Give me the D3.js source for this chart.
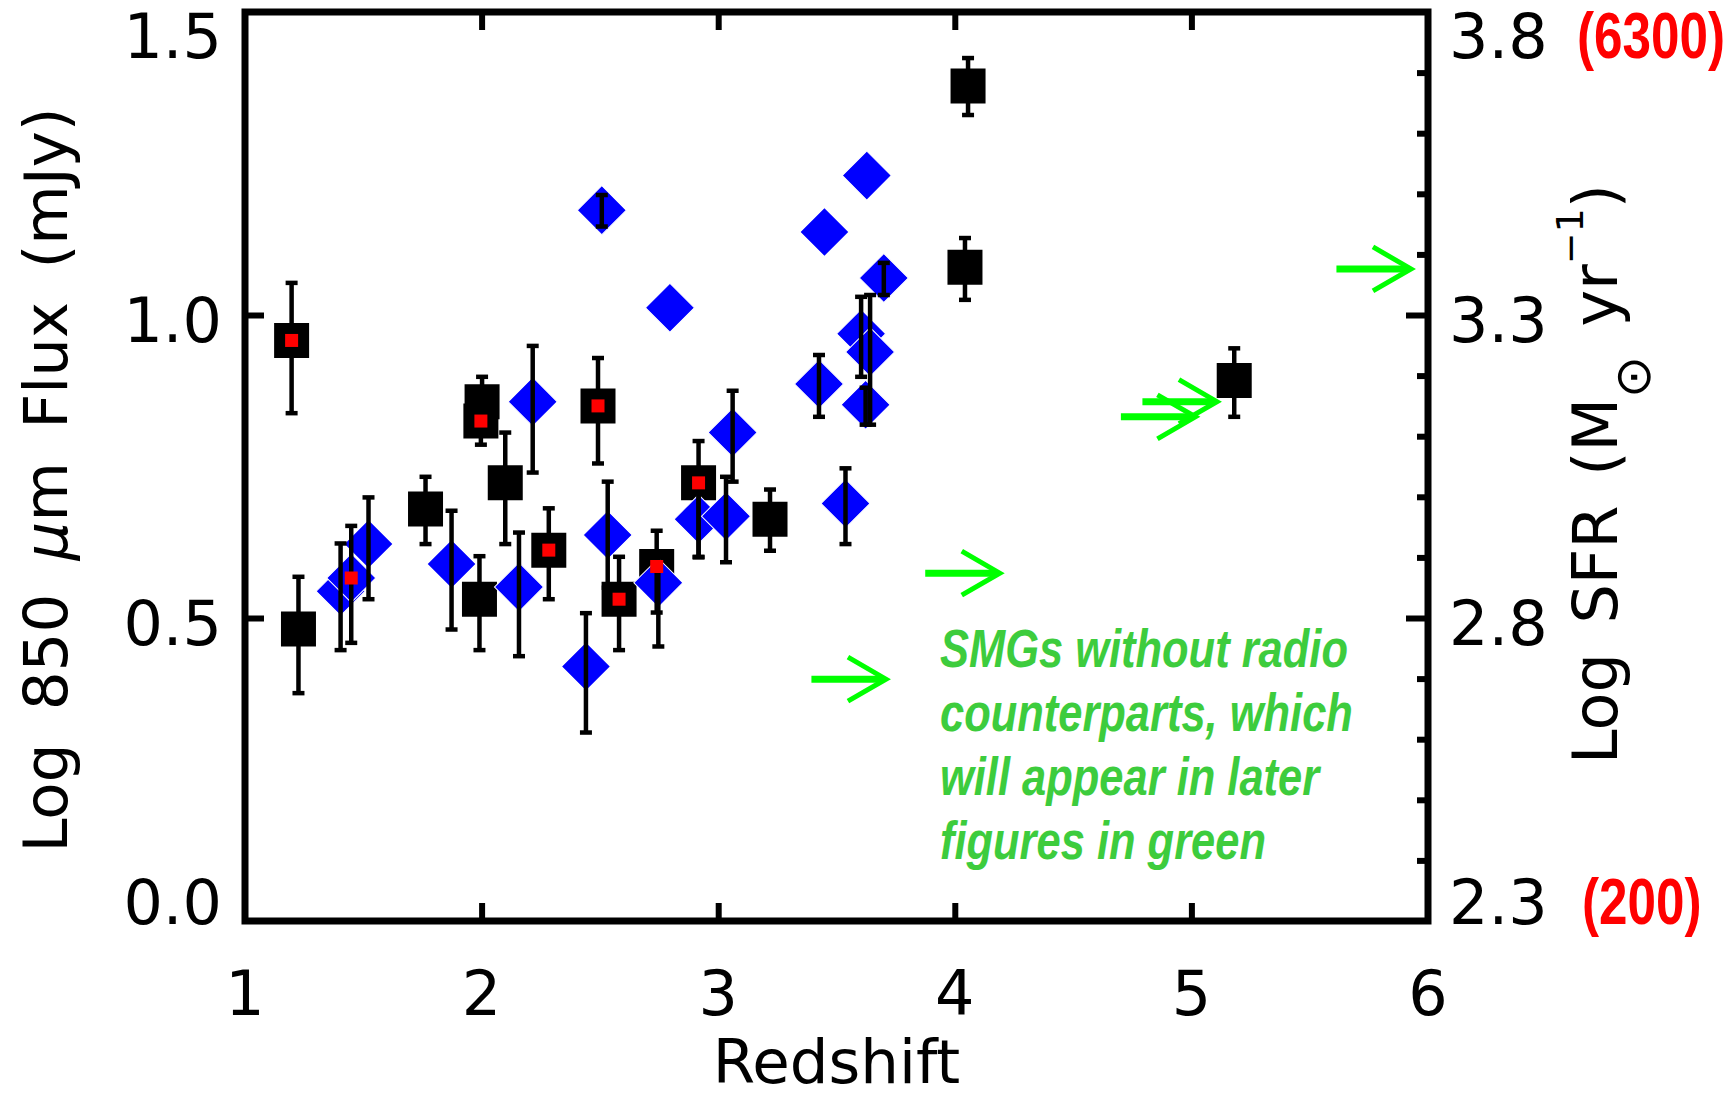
<!DOCTYPE html>
<html>
<head>
<meta charset="utf-8">
<script src="https://cdn.jsdelivr.net/npm/d3@7"></script>
<style>
  body { margin: 0; background: #fff; }
  svg { display: block; }
</style>
</head>
<body>
<div id="chart"></div>
<script>
// black squares: redshift, log flux, lower / upper error, red centre flag
var sqZ   = [1.197, 1.226, 1.763, 1.991, 2.002, 1.997, 2.100, 2.284, 2.492, 2.581, 2.740, 2.917, 3.219, 4.043, 4.056, 5.181];
var sqF   = [0.958, 0.482, 0.680, 0.531, 0.857, 0.825, 0.723, 0.612, 0.850, 0.531, 0.585, 0.723, 0.663, 1.079, 1.378, 0.892];
var sqLo  = [0.838, 0.376, 0.622, 0.447, 0.830, 0.786, 0.622, 0.531, 0.755, 0.447, 0.509, 0.601, 0.611, 1.025, 1.330, 0.832];
var sqHi  = [1.053, 0.568, 0.733, 0.602, 0.898, 0.860, 0.806, 0.681, 0.929, 0.601, 0.644, 0.792, 0.712, 1.127, 1.424, 0.945];
var sqRed = [1, 0, 0, 0, 0, 1, 0, 1, 1, 1, 1, 1, 0, 0, 0, 0];

// blue diamonds (null = no error bar)
var dmZ   = [1.404, 1.449, 1.522, 1.873, 2.158, 2.216, 2.441, 2.508, 2.533, 2.747, 2.796, 2.917, 3.033, 3.061, 3.426, 3.449, 3.538, 3.604, 3.642, 3.623, 3.628, 3.700];
var dmF   = [0.544, 0.566, 0.622, 0.589, 0.551, 0.857, 0.420, 1.173, 0.637, 0.558, 1.012, 0.663, 0.668, 0.806, 0.886, 1.137, 0.689, 0.969, 0.939, 0.852, 1.230, 1.061];
var dmLo  = [0.447, 0.459, 0.531, 0.481, 0.437, 0.740, 0.311, 1.146, 0.550, 0.453, null, 0.600, 0.592, 0.725, 0.832, null, 0.622, 0.898, 0.819, 0.819, null, 1.033];
var dmHi  = [0.623, 0.652, 0.699, 0.677, 0.641, 0.949, 0.508, 1.198, 0.725, 0.607, null, 0.720, 0.733, 0.875, 0.934, null, 0.747, 1.030, 1.033, 0.880, null, 1.086];
var dmRed = [0, 1, 0, 0, 0, 0, 0, 0, 0, 0, 0, 0, 0, 0, 0, 0, 0, 0, 0, 0, 0, 0];

// green arrows (SMGs without radio counterparts): tip redshift, log flux
var arZ = [3.709, 4.190, 5.017, 5.108, 5.928];
var arF = [0.399, 0.574, 0.832, 0.857, 1.076];
var arLen = 0.315;

var xTicks = [1, 2, 3, 4, 5, 6];
var yTicks = [0.0, 0.5, 1.0, 1.5];
var sfrTicks = [2.3, 2.8, 3.3, 3.8];
var sfrMinor = [2.4, 2.5, 2.6, 2.7, 2.9, 3.0, 3.1, 3.2, 3.4, 3.5, 3.6, 3.7];
var noteLines = ["SMGs without radio", "counterparts, which", "will appear in later", "figures in green"];

var width = 1735, height = 1098;
var font = "'DejaVu Sans', sans-serif";

var svg = d3.select("#chart").append("svg")
    .attr("width", width)
    .attr("height", height);

var x = d3.scaleLinear().domain([1, 6]).range([245, 1428]);
var y = d3.scaleLinear().domain([0, 1.5]).range([921, 12]);
var ySfr = d3.scaleLinear().domain([2.3, 3.8]).range([921, 12]);

// ticks
function styleAxis(g){
  g.select(".domain").remove();
  g.selectAll("line").attr("stroke", "#000").attr("stroke-width", 6);
}
svg.append("g").attr("transform", "translate(0," + y(0) + ")")
   .call(d3.axisBottom(x).tickValues([2, 3, 4, 5]).tickSize(-18).tickFormat(""))
   .call(styleAxis);
svg.append("g").attr("transform", "translate(0," + y(1.5) + ")")
   .call(d3.axisTop(x).tickValues([2, 3, 4, 5]).tickSize(-18).tickFormat(""))
   .call(styleAxis);
svg.append("g").attr("transform", "translate(" + x(1) + ",0)")
   .call(d3.axisLeft(y).tickValues([0.5, 1.0]).tickSize(-19).tickFormat(""))
   .call(styleAxis);
svg.append("g").attr("transform", "translate(" + x(6) + ",0)")
   .call(d3.axisRight(ySfr).tickValues([2.8, 3.3]).tickSize(-22).tickFormat(""))
   .call(styleAxis);
svg.append("g").attr("transform", "translate(" + x(6) + ",0)")
   .call(d3.axisRight(ySfr).tickValues(sfrMinor).tickSize(-11).tickFormat(""))
   .call(styleAxis);

// frame
svg.append("rect")
   .attr("x", x(1)).attr("y", y(1.5))
   .attr("width", x(6) - x(1)).attr("height", y(0) - y(1.5))
   .attr("fill", "none").attr("stroke", "#000").attr("stroke-width", 7);

// tick labels
function labelY(py){ return Math.max(58, Math.min(924, py + 27)); }

svg.selectAll(".xlab").data(xTicks).enter().append("text")
   .attr("x", function(d){ return x(d); })
   .attr("y", 1015)
   .attr("text-anchor", "middle")
   .style("font-family", font).style("font-size", "62px")
   .text(function(d){ return d; });

svg.selectAll(".ylab").data(yTicks).enter().append("text")
   .attr("x", 222)
   .attr("y", function(d){ return labelY(y(d)); })
   .attr("text-anchor", "end")
   .style("font-family", font).style("font-size", "62px")
   .text(function(d){ return d.toFixed(1); });

svg.selectAll(".sfrlab").data(sfrTicks).enter().append("text")
   .attr("x", 1449)
   .attr("y", function(d){ return labelY(ySfr(d)); })
   .attr("text-anchor", "start")
   .style("font-family", font).style("font-size", "62px")
   .text(function(d){ return d.toFixed(1); });

var redLabs = [{v: 3.8, t: "(6300)", x: 1577}, {v: 2.3, t: "(200)", x: 1582}];
redLabs.forEach(function(r){
  svg.append("g")
     .attr("transform", "translate(" + r.x + "," + labelY(ySfr(r.v)) + ") scale(0.8,1)")
   .append("text")
     .attr("fill", "#ff0000")
     .style("font-family", "'Liberation Sans', Arial, sans-serif")
     .style("font-weight", "bold").style("font-size", "64px")
     .text(r.t);
});

// axis titles
svg.append("text")
   .attr("x", x(3.5)).attr("y", 1083)
   .attr("text-anchor", "middle")
   .style("font-family", font).style("font-size", "61px")
   .text("Redshift");

var yt = svg.append("text")
   .attr("transform", "translate(67,480) rotate(-90)")
   .attr("text-anchor", "middle")
   .style("font-family", font).style("font-size", "61px")
   .style("word-spacing", "14px");
yt.append("tspan").text("Log 850 ");
yt.append("tspan").style("font-style", "italic").text("\u03bc");
yt.append("tspan").text("m Flux (mJy)");

var rt = svg.append("text")
   .attr("transform", "translate(1617,474) rotate(-90)")
   .attr("text-anchor", "middle")
   .style("font-family", font).style("font-size", "62px")
   .style("word-spacing", "10px");
rt.append("tspan").text("Log SFR (M");
rt.append("tspan").attr("dy", 33).style("font-size", "50px").text("\u2299");
rt.append("tspan").attr("dy", -33).text(" yr");
rt.append("tspan").attr("dy", -34).style("font-size", "38px").text("\u22121");
rt.append("tspan").attr("dy", 34).text(")");

// data rows
var squares = sqZ.map(function(z, i){ return {z: z, f: sqF[i], lo: sqLo[i], hi: sqHi[i], red: sqRed[i]}; });
var diamonds = dmZ.map(function(z, i){ return {z: z, f: dmF[i], lo: dmLo[i], hi: dmHi[i], red: dmRed[i]}; });

var sq = d3.symbol().type(d3.symbolSquare).size(1225);
var dm = d3.symbol().type(d3.symbolSquare).size(1200);
var dot = d3.symbol().type(d3.symbolSquare).size(169);

svg.append("g").selectAll("path").data(squares).enter().append("path")
   .attr("d", sq)
   .attr("transform", function(d){ return "translate(" + x(d.z) + "," + y(d.f) + ")"; })
   .attr("fill", "#000");

svg.append("g").selectAll("path").data(diamonds).enter().append("path")
   .attr("d", dm)
   .attr("transform", function(d){ return "translate(" + x(d.z) + "," + y(d.f) + ") rotate(45)"; })
   .attr("fill", "#0000ff")
   .attr("stroke", "#fff").attr("stroke-width", 1);

// error bars
var withErr = squares.concat(diamonds).filter(function(d){ return d.lo !== null; });
var eb = svg.append("g").attr("stroke", "#000");
eb.selectAll(".ebar").data(withErr).enter().append("line")
   .attr("x1", function(d){ return x(d.z); }).attr("x2", function(d){ return x(d.z); })
   .attr("y1", function(d){ return y(d.lo); }).attr("y2", function(d){ return y(d.hi); })
   .attr("stroke-width", 4.5);
["lo", "hi"].forEach(function(k){
  eb.selectAll(".cap" + k).data(withErr).enter().append("line")
     .attr("x1", function(d){ return x(d.z) - 6; }).attr("x2", function(d){ return x(d.z) + 6; })
     .attr("y1", function(d){ return y(d[k]); }).attr("y2", function(d){ return y(d[k]); })
     .attr("stroke-width", 4.5);
});

// red centres
svg.append("g").selectAll("path")
   .data(squares.concat(diamonds).filter(function(d){ return d.red; }))
   .enter().append("path")
   .attr("d", dot)
   .attr("transform", function(d){ return "translate(" + x(d.z) + "," + y(d.f) + ")"; })
   .attr("fill", "#ff0000");

// green arrows
var arrows = arZ.map(function(z, i){ return {z: z, f: arF[i]}; });
var ag = svg.append("g").attr("stroke", "#00ff00").attr("fill", "none");
ag.selectAll(".shaft").data(arrows).enter().append("line")
   .attr("x1", function(d){ return x(d.z - arLen); }).attr("x2", function(d){ return x(d.z) - 3; })
   .attr("y1", function(d){ return y(d.f); }).attr("y2", function(d){ return y(d.f); })
   .attr("stroke-width", 7);
ag.selectAll(".head").data(arrows).enter().append("path")
   .attr("d", function(d){
     var tx = x(d.z), ty = y(d.f);
     return "M" + (tx - 38) + "," + (ty - 22) + "L" + tx + "," + ty + "L" + (tx - 38) + "," + (ty + 22);
   })
   .attr("stroke-width", 5);

// note
var note = svg.append("g").attr("transform", "translate(940,0) scale(0.82,1)");
note.selectAll("text").data(noteLines).enter().append("text")
   .attr("x", 0)
   .attr("y", function(d, i){ return 667 + i * 64; })
   .attr("fill", "#3dcc3d")
   .style("font-family", "'Liberation Sans', Arial, sans-serif")
   .style("font-weight", "bold").style("font-style", "italic")
   .style("font-size", "53px")
   .text(function(d){ return d; });
</script>
</body>
</html>
